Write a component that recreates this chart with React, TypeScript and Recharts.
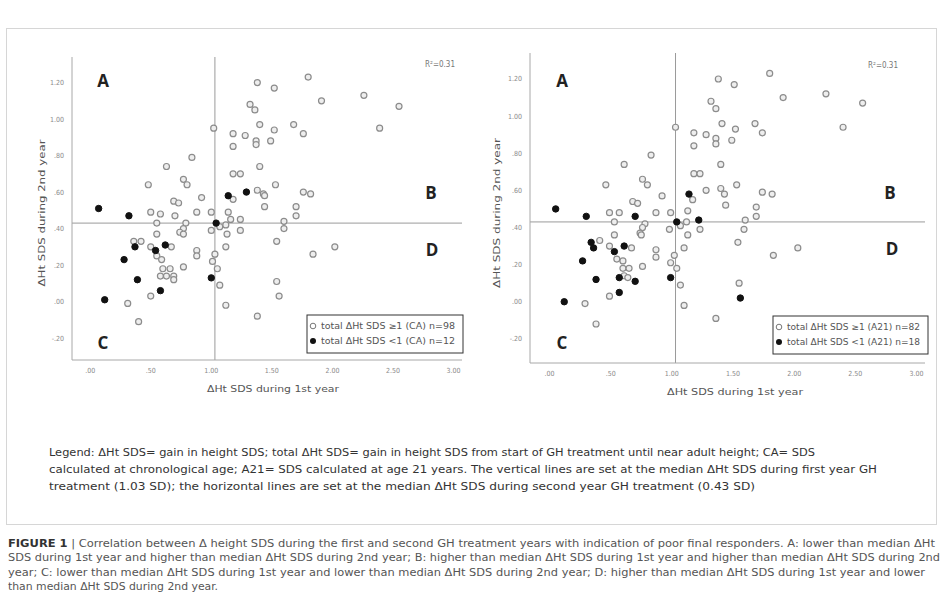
import { ScatterChart, Scatter, XAxis, YAxis, ReferenceLine } from 'recharts';

// [x = ΔHt SDS 1st year, y = ΔHt SDS 2nd year]
const LEFT_OPEN: [number, number][] = [
  [1.8, 1.23], [1.38, 1.2], [1.52, 1.17], [2.26, 1.13], [1.91, 1.1], [2.55, 1.07], [1.32, 1.08], [1.36, 1.05],
  [1.02, 0.95], [1.4, 0.97], [1.52, 0.94], [1.68, 0.97], [1.76, 0.92], [2.39, 0.95], [1.18, 0.92], [1.28, 0.91],
  [1.37, 0.88], [1.37, 0.86], [1.49, 0.88], [1.18, 0.85], [0.84, 0.79], [0.63, 0.74], [1.4, 0.74], [1.18, 0.7],
  [1.24, 0.7], [0.48, 0.64], [0.77, 0.67], [0.8, 0.64], [1.53, 0.64], [1.38, 0.61], [1.43, 0.59], [1.44, 0.58],
  [0.69, 0.55], [0.73, 0.54], [0.92, 0.57], [1.18, 0.56], [1.76, 0.6], [1.82, 0.59], [1.44, 0.52], [1.7, 0.52],
  [1.7, 0.47], [0.5, 0.49], [0.58, 0.48], [0.7, 0.47], [0.88, 0.49], [1.0, 0.49], [1.14, 0.49], [1.16, 0.45],
  [1.24, 0.45], [1.6, 0.44], [1.6, 0.4], [0.55, 0.43], [0.79, 0.43], [0.77, 0.4], [1.07, 0.41], [1.12, 0.42],
  [1.0, 0.39], [1.24, 0.39], [0.55, 0.37], [0.74, 0.38], [0.77, 0.37], [1.13, 0.37], [0.36, 0.33], [0.42, 0.33],
  [0.5, 0.3], [0.67, 0.3], [1.54, 0.33], [0.88, 0.28], [0.88, 0.25], [1.03, 0.26], [1.12, 0.3], [2.02, 0.3],
  [1.84, 0.26], [0.55, 0.25], [0.59, 0.23], [1.01, 0.22], [1.05, 0.18], [0.77, 0.19], [0.6, 0.18], [0.66, 0.18],
  [0.58, 0.14], [0.63, 0.14], [0.69, 0.14], [0.69, 0.12], [1.07, 0.09], [1.54, 0.11], [0.5, 0.03], [1.56, 0.03],
  [0.31, -0.01], [1.12, -0.02], [0.4, -0.11], [1.38, -0.08],
];
const LEFT_FILLED: [number, number][] = [
  [0.07, 0.51], [0.32, 0.47], [1.04, 0.43], [1.14, 0.58], [1.29, 0.6], [0.37, 0.3], [0.54, 0.28],
  [0.62, 0.31], [0.28, 0.23], [0.39, 0.12], [0.58, 0.06], [1.0, 0.13], [0.12, 0.01],
];
const RIGHT_OPEN: [number, number][] = [
  [1.8, 1.23], [1.38, 1.2], [1.51, 1.17], [2.26, 1.12], [1.91, 1.1], [2.56, 1.07], [1.32, 1.08], [1.36, 1.04],
  [1.41, 0.96], [1.68, 0.96], [1.74, 0.91], [2.4, 0.94], [1.52, 0.93], [1.03, 0.94], [1.18, 0.91], [1.28, 0.9],
  [1.36, 0.88], [1.36, 0.85], [1.49, 0.87], [1.18, 0.84], [0.83, 0.79], [0.61, 0.74], [1.4, 0.74], [1.18, 0.69],
  [1.23, 0.69], [0.46, 0.63], [0.76, 0.66], [0.8, 0.63], [1.53, 0.63], [1.28, 0.6], [1.4, 0.61], [1.43, 0.58],
  [0.92, 0.57], [1.74, 0.59], [1.82, 0.58], [1.17, 0.55], [0.68, 0.54], [0.72, 0.53], [1.44, 0.52], [1.69, 0.51],
  [1.69, 0.46], [0.49, 0.48], [0.57, 0.48], [0.87, 0.48], [0.99, 0.48], [1.13, 0.49], [0.53, 0.43], [0.78, 0.42],
  [0.76, 0.4], [1.07, 0.41], [1.12, 0.43], [1.23, 0.39], [1.6, 0.44], [1.59, 0.39], [0.98, 0.39], [0.53, 0.36],
  [0.74, 0.37], [0.75, 0.36], [1.13, 0.36], [0.41, 0.33], [0.49, 0.3], [0.67, 0.29], [1.54, 0.32], [0.87, 0.28],
  [0.87, 0.24], [1.02, 0.25], [1.1, 0.29], [2.03, 0.29], [1.83, 0.25], [0.55, 0.23], [0.6, 0.22], [0.99, 0.21],
  [1.04, 0.18], [0.76, 0.19], [0.6, 0.18], [0.65, 0.18], [0.61, 0.14], [0.64, 0.13], [1.07, 0.09], [1.55, 0.1],
  [0.49, 0.03], [0.29, -0.01], [1.1, -0.02], [0.38, -0.12], [1.36, -0.09],
];
const RIGHT_FILLED: [number, number][] = [
  [0.05, 0.5], [0.3, 0.46], [0.7, 0.46], [1.04, 0.43], [1.14, 0.58], [1.22, 0.44], [0.34, 0.32], [0.36, 0.29],
  [0.53, 0.27], [0.61, 0.3], [0.27, 0.22], [0.38, 0.12], [0.57, 0.13], [0.7, 0.11], [0.57, 0.05], [0.99, 0.13],
  [0.12, 0.0], [1.56, 0.02],
];

const X_TICKS = [0, 0.5, 1, 1.5, 2, 2.5, 3];
const Y_TICKS = [-0.2, 0, 0.2, 0.4, 0.6, 0.8, 1.0, 1.2];
const MEDIAN_X = 1.03;
const MEDIAN_Y = 0.43;

const LEGEND_LINES = [
  'Legend: ΔHt SDS= gain in height SDS; total ΔHt SDS= gain in height SDS from start of GH treatment until near adult height; CA= SDS',
  'calculated at chronological age; A21= SDS calculated at age 21 years. The vertical lines are set at the median ΔHt SDS during first year GH',
  'treatment (1.03 SD); the horizontal lines are set at the median ΔHt SDS during second year GH treatment (0.43 SD)',
];
const CAPTION_LINES = [
  ' Correlation between Δ height SDS during the first and second GH treatment years with indication of poor final responders. A: lower than median ΔHt',
  'SDS during 1st year and higher than median ΔHt SDS during 2nd year; B: higher than median ΔHt SDS during 1st year and higher than median ΔHt SDS during 2nd',
  'year; C: lower than median ΔHt SDS during 1st year and lower than median ΔHt SDS during 2nd year; D: higher than median ΔHt SDS during 1st year and lower',
  'than median ΔHt SDS during 2nd year.',
];

const toPts = (arr: [number, number][]) => arr.map(([x, y]) => ({ x, y }));
const fmt = (v: number) => v.toFixed(2).replace(/^(-?)0\./, '$1.');

const FONT = '"Liberation Sans Narrow", "DejaVu Sans Condensed", "Liberation Sans", sans-serif';

const openShape = (p: any) => <circle cx={p.cx} cy={p.cy} r={3} fill="#eee" stroke="#8c8c8c" strokeWidth={1.2} />;
const filledShape = (p: any) => <circle cx={p.cx} cy={p.cy} r={3.2} fill="#111" stroke="#111" />;

interface PanelProps {
  left: number;
  width: number;
  margin: { top: number; right: number; bottom: number; left: number };
  yAxisWidth: number;
  xDomain: [number, number];
  yDomain: [number, number];
  open: [number, number][];
  filled: [number, number][];
}

function Panel({ left, width, margin, yAxisWidth, xDomain, yDomain, open, filled }: PanelProps) {
  return (
    <div style={{ position: 'absolute', left, top: 0 }}>
      <ScatterChart width={width} height={400} margin={margin}>
        <XAxis
          type="number"
          dataKey="x"
          domain={xDomain}
          ticks={X_TICKS}
          tickFormatter={fmt}
          tick={{ fontSize: 7, fill: '#8a8a8a', fontFamily: FONT }}
          tickLine={false}
          axisLine={{ stroke: '#a8a8a8' }}
          height={20}
          allowDataOverflow
        />
        <YAxis
          type="number"
          dataKey="y"
          domain={yDomain}
          ticks={Y_TICKS}
          tickFormatter={fmt}
          tick={{ fontSize: 7, fill: '#8a8a8a', fontFamily: FONT }}
          tickLine={false}
          axisLine={{ stroke: '#a8a8a8' }}
          width={yAxisWidth}
          allowDataOverflow
        />
        <ReferenceLine x={MEDIAN_X} stroke="#9a9a9a" />
        <ReferenceLine y={MEDIAN_Y} stroke="#9a9a9a" />
        <Scatter data={toPts(open)} shape={openShape} isAnimationActive={false} />
        <Scatter data={toPts(filled)} shape={filledShape} isAnimationActive={false} />
      </ScatterChart>
    </div>
  );
}

function LegendBox({ x, y, w, lines }: { x: number; y: number; w: number; lines: string[] }) {
  return (
    <g>
      <rect x={x} y={y} width={w} height={38} fill="#fff" stroke="#333" strokeWidth={1} />
      <circle cx={x + 6} cy={y + 11} r={2.8} fill="#fff" stroke="#777" />
      <text x={x + 14} y={y + 14} fontSize={8} fill="#555" fontFamily={FONT} textLength={w - 22} lengthAdjust="spacingAndGlyphs">
        {lines[0]}
      </text>
      <circle cx={x + 6} cy={y + 26} r={3} fill="#111" />
      <text x={x + 14} y={y + 29} fontSize={8} fill="#555" fontFamily={FONT} textLength={w - 22} lengthAdjust="spacingAndGlyphs">
        {lines[1]}
      </text>
    </g>
  );
}

const letter = { fontSize: 17, fontWeight: 700, fill: '#222', fontFamily: '"Open Sans", sans-serif', textAnchor: 'middle' as const };
const axisTitle = { fontSize: 9, fill: '#555', fontFamily: FONT, textAnchor: 'middle' as const };

export default function App() {
  return (
    <div style={{ position: 'absolute', left: 0, top: 0, width: 943, height: 596, background: '#fff', overflow: 'hidden' }}>
      <svg width={943} height={596} style={{ position: 'absolute', left: 0, top: 0 }}>
        <rect x={6.5} y={28.5} width={930} height={496} fill="none" stroke="#d6d6d6" />
      </svg>
      <Panel
        left={0}
        width={470}
        margin={{ top: 57, right: 8, bottom: 20, left: 0 }}
        yAxisWidth={72}
        xDomain={[-0.15, 3.07]}
        yDomain={[-0.32, 1.34]}
        open={LEFT_OPEN}
        filled={LEFT_FILLED}
      />
      <Panel
        left={470}
        width={463}
        margin={{ top: 53, right: 8, bottom: 17, left: 0 }}
        yAxisWidth={60}
        xDomain={[-0.16, 3.07]}
        yDomain={[-0.33, 1.34]}
        open={RIGHT_OPEN}
        filled={RIGHT_FILLED}
      />
      <svg width={943} height={596} style={{ position: 'absolute', left: 0, top: 0, pointerEvents: 'none' }}>
        {/* quadrant letters */}
        <text x={103} y={87} {...letter}>A</text>
        <text x={431} y={199} {...letter}>B</text>
        <text x={432} y={256} {...letter}>D</text>
        <text x={103} y={349} {...letter}>C</text>
        <text x={562} y={87} {...letter}>A</text>
        <text x={890} y={199} {...letter}>B</text>
        <text x={892} y={255} {...letter}>D</text>
        <text x={562} y={349} {...letter}>C</text>

        <text x={440} y={67} fontSize={8} fill="#777" fontFamily={FONT} textAnchor="middle">R²=0.31</text>
        <text x={883} y={68} fontSize={8} fill="#777" fontFamily={FONT} textAnchor="middle">R²=0.31</text>

        <text x={273} y={392} {...axisTitle} textLength={132} lengthAdjust="spacingAndGlyphs">ΔHt SDS during 1st year</text>
        <text x={735} y={395} {...axisTitle} textLength={136} lengthAdjust="spacingAndGlyphs">ΔHt SDS during 1st year</text>
        <text transform="translate(45,213) rotate(-90)" {...axisTitle} textLength={147} lengthAdjust="spacingAndGlyphs">ΔHt SDS during 2nd year</text>
        <text transform="translate(500,213) rotate(-90)" {...axisTitle} textLength={150} lengthAdjust="spacingAndGlyphs">ΔHt SDS during 2nd year</text>

        <LegendBox x={307} y={315} w={156} lines={['total ΔHt SDS ≥1 (CA) n=98', 'total ΔHt SDS <1 (CA) n=12']} />
        <LegendBox x={773} y={316} w={155} lines={['total ΔHt SDS ≥1 (A21) n=82', 'total ΔHt SDS <1 (A21) n=18']} />

        {/* legend paragraph */}
        {LEGEND_LINES.map((line, i) => (
          <text
            key={i}
            x={49}
            y={456 + i * 17}
            fontSize={11}
            fill="#333"
            fontFamily={FONT}
            textLength={[766, 828, 706][i]}
            lengthAdjust="spacingAndGlyphs"
          >
            {line}
          </text>
        ))}

        {/* figure caption */}
        <text x={8} y={547} fontSize={10} fill="#555" fontFamily={FONT} textLength={927} lengthAdjust="spacingAndGlyphs">
          <tspan fontWeight={700} fill="#333">FIGURE 1</tspan>
          <tspan> |{CAPTION_LINES[0]}</tspan>
        </text>
        {CAPTION_LINES.slice(1).map((line, i) => (
          <text
            key={i}
            x={8}
            y={561 + i * 14.5}
            fontSize={10}
            fill="#555"
            fontFamily={FONT}
            textLength={[932, 917, 210][i]}
            lengthAdjust="spacingAndGlyphs"
          >
            {line}
          </text>
        ))}
      </svg>
    </div>
  );
}
